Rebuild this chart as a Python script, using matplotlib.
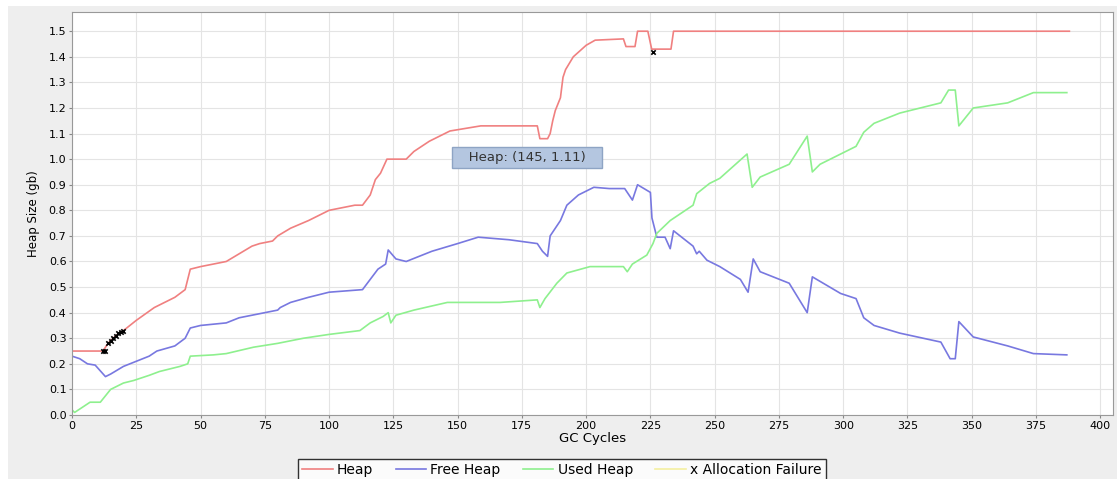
import matplotlib
matplotlib.use("Agg")
import matplotlib.pyplot as plt
from matplotlib.lines import Line2D
from matplotlib.patches import Rectangle

# Heap (total)
heap_x = [0, 12, 14, 17, 20, 25, 32, 40, 44, 46, 50, 60, 65, 70, 73, 78, 80, 85, 92, 100,
          110, 113, 116, 118, 120, 122.5, 130, 133, 139, 147, 159, 181, 182, 185, 186, 187,
          188, 190, 191, 192, 195, 200, 203.5, 214.5, 215.5, 219, 220, 224, 225.5, 233, 234, 388]
heap_y = [0.25, 0.25, 0.28, 0.31, 0.33, 0.37, 0.42, 0.46, 0.49, 0.57, 0.58, 0.60, 0.63, 0.66,
          0.67, 0.68, 0.70, 0.73, 0.76, 0.80, 0.82, 0.82, 0.86, 0.92, 0.945, 1.00, 1.00, 1.03,
          1.07, 1.11, 1.13, 1.13, 1.08, 1.08, 1.10, 1.15, 1.19, 1.24, 1.32, 1.35, 1.40, 1.445,
          1.465, 1.47, 1.44, 1.44, 1.50, 1.50, 1.43, 1.43, 1.50, 1.50]

# Free heap
free_x = [0, 3, 6, 9, 13, 15, 20, 25, 30, 33, 40, 44, 46, 50, 60, 65, 70, 75, 80, 81, 85, 92,
          100, 113, 116, 119, 122, 123, 126, 130, 140, 150, 158, 170, 181, 183, 185, 186, 190,
          192.5, 197, 203, 209, 215, 218, 220, 225, 225.6, 227.5, 230.7, 232.7, 234, 241.6,
          243, 244, 247, 252, 260, 263, 265, 267.7, 279, 286, 288, 299, 305, 308, 312, 322,
          338, 341.6, 343.6, 345, 350.6, 364, 374, 387]
free_y = [0.23, 0.22, 0.20, 0.195, 0.15, 0.16, 0.19, 0.21, 0.23, 0.25, 0.27, 0.30, 0.34, 0.35,
          0.36, 0.38, 0.39, 0.40, 0.41, 0.42, 0.44, 0.46, 0.48, 0.49, 0.53, 0.57, 0.59, 0.645,
          0.61, 0.60, 0.64, 0.67, 0.695, 0.685, 0.67, 0.64, 0.62, 0.70, 0.76, 0.82, 0.86, 0.89,
          0.885, 0.885, 0.84, 0.90, 0.87, 0.77, 0.695, 0.695, 0.65, 0.72, 0.66, 0.63, 0.64,
          0.605, 0.58, 0.53, 0.48, 0.61, 0.56, 0.515, 0.40, 0.54, 0.475, 0.455, 0.38, 0.35,
          0.32, 0.285, 0.22, 0.22, 0.365, 0.305, 0.27, 0.24, 0.235]

# Used heap
used_x = [0, 1, 4, 7, 11, 15, 20, 24, 30, 34, 42, 45, 46, 55, 60, 70.6, 80, 90, 100, 112, 116,
          121, 123, 124, 126, 133, 146, 159, 166.5, 181, 182, 184, 188.6, 192.5, 201.5, 214.5,
          216, 218, 223.6, 226, 227.5, 232.7, 241.6, 243, 248, 252, 262.6, 264.6, 267.7, 279,
          286, 288, 291, 305, 308, 312, 322, 338, 341, 343.6, 345, 350.6, 364, 374, 387]
used_y = [0.02, 0.01, 0.03, 0.05, 0.05, 0.10, 0.125, 0.135, 0.155, 0.17, 0.19, 0.20, 0.23,
          0.235, 0.24, 0.265, 0.28, 0.30, 0.315, 0.33, 0.36, 0.385, 0.40, 0.36, 0.39, 0.41,
          0.44, 0.44, 0.44, 0.45, 0.42, 0.455, 0.515, 0.555, 0.58, 0.58, 0.56, 0.59, 0.625,
          0.67, 0.71, 0.76, 0.82, 0.865, 0.905, 0.925, 1.02, 0.89, 0.93, 0.98, 1.09, 0.95,
          0.98, 1.05, 1.105, 1.14, 1.18, 1.22, 1.27, 1.27, 1.13, 1.20, 1.22, 1.26, 1.26]

# Allocation failures
fail_x = [12, 13, 14, 15, 16, 17, 18, 19, 20, 226]
fail_y = [0.25, 0.25, 0.28, 0.29, 0.30, 0.31, 0.32, 0.325, 0.33, 1.42]

x_ticks = list(range(0, 401, 25))
y_ticks = [i / 10 for i in range(0, 16)]

fig = plt.figure(figsize=(11.17, 4.79), dpi=100, facecolor="white")
# grey chart panel, white strip at top/left like the screenshot
fig.add_artist(Rectangle((8 / 1117, 0), 1, 1 - 6 / 479, transform=fig.transFigure,
                         fc="#eeeeee", ec="none", zorder=-10))
ax = fig.add_axes([0.0645, 0.1336, 0.932, 0.8413])
ax.set_facecolor("white")

c_heap = "#f08080"
c_free = "#7878e0"
c_used = "#8ef08e"

ax.plot(heap_x, heap_y, color=c_heap, lw=1.2)
ax.plot(free_x, free_y, color=c_free, lw=1.2)
ax.plot(used_x, used_y, color=c_used, lw=1.2)
ax.scatter(fail_x, fail_y, marker="x", s=10, color="black", lw=1.2, zorder=5)

ax.set_xlim(0, 405)
ax.set_ylim(0, 1.575)
ax.set_xticks(x_ticks)
ax.set_yticks(y_ticks)
ax.set_yticklabels([f"{v:.1f}" for v in y_ticks])
ax.grid(True, color="#e4e4e4", lw=0.8)
ax.set_axisbelow(True)
ax.tick_params(labelsize=8, length=2, color="#888888", pad=2)
for s in ax.spines.values():
    s.set_color("#999999")

ax.set_xlabel("GC Cycles", fontsize=9.5, labelpad=1)
ax.set_ylabel("Heap Size (gb)", fontsize=8.5, labelpad=6)

ax.text(177, 1.005, "   Heap: (145, 1.11)   ", fontsize=9.5, ha="center", va="center",
        color="#333333",
        bbox=dict(boxstyle="square,pad=0.3", fc="#b4c6e0", ec="#8ea4c4", lw=1))

handles = [
    Line2D([], [], color=c_heap, lw=1.2),
    Line2D([], [], color=c_free, lw=1.2),
    Line2D([], [], color=c_used, lw=1.2),
    Line2D([], [], color="#f4f0a0", lw=1.2),
]
labels = ["Heap", "Free Heap", "Used Heap", "x Allocation Failure"]
leg = fig.legend(handles, labels, loc="upper center", bbox_to_anchor=(0.503, 0.057),
                 ncol=4, fontsize=10, frameon=True, fancybox=False, handlelength=2.2,
                 handletextpad=0.3, columnspacing=1.6, borderpad=0.3)
leg.get_frame().set_edgecolor("black")
leg.get_frame().set_linewidth(1)

fig.savefig("out.png", dpi=100, facecolor=fig.get_facecolor())
